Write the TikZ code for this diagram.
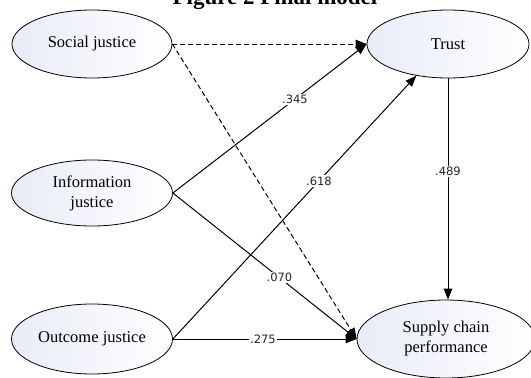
\documentclass[tikz,border=0pt]{standalone}
\usepackage{fontspec}
\setmainfont{Liberation Serif}
\newfontfamily\coeffont{DejaVu Sans}
\usetikzlibrary{shapes.geometric,arrows.meta}

\definecolor{ovalshade}{RGB}{232,236,247}

\begin{document}
\begin{tikzpicture}[x=1pt,y=-1pt,
  construct/.style={ellipse, draw=black, line width=0.8pt, inner sep=0pt,
    left color=ovalshade, right color=white, align=center,
    font=\fontsize{16.5}{20}\selectfont},
  link/.style={line width=1pt, -{Triangle[length=11pt,width=8.5pt]}},
  dashlink/.style={link, dash pattern=on 5pt off 3pt},
  coef/.style={fill=white, inner sep=1.2pt, text=black!85,
    font=\coeffont\fontsize{11.5}{13}\selectfont}
]
\useasboundingbox (0,0) rectangle (531,378);

% heading, partly above the page edge
\node[anchor=base, font=\fontsize{23}{26}\selectfont\bfseries] (title) at (275,4) {Figure 2 Final model};

% constructs
\node[construct, minimum width=160pt, minimum height=68pt] (sj)  at (92,44)   {Social justice};
\node[construct, minimum width=162pt, minimum height=68pt] (tr)  at (448,44)  {Trust};
\node[construct, minimum width=161pt, minimum height=66pt] (ij)  at (92,193)  {Information\\justice};
\node[construct, minimum width=161pt, minimum height=70pt] (oj)  at (92,339)  {Outcome justice};
\node[construct, minimum width=178pt, minimum height=78pt] (scp) at (446,339) {Supply chain\\performance};

% paths
\draw[dashlink] (sj.east) -- (tr.west);
\draw[dashlink] (sj.east) -- (scp.west);
\draw[link] (ij.east) -- node[coef, pos=0.63] (c345) {.345} (tr.west);
\draw[link] (ij.east) -- node[coef, pos=0.58] (c070) {.070} (scp.west);
\draw[link] (oj.east) -- node[coef, pos=0.6]  (c618) {.618} (tr.225);
\draw[link] (oj.east) -- node[coef, pos=0.49] (c275) {.275} (scp.west);
\draw[link] (tr.south) -- node[coef, pos=0.42] (c489) {.489} (tr.south |- scp.north);
\end{tikzpicture}
\end{document}
